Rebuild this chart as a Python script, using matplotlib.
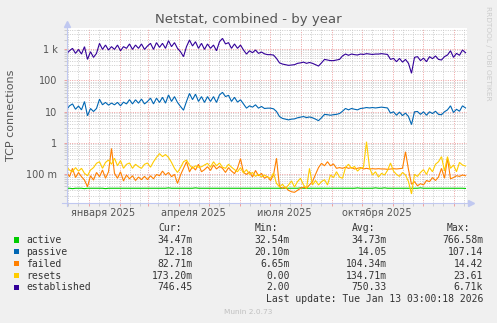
import numpy as np
import pandas as pd
import matplotlib
matplotlib.use("Agg")
import matplotlib.pyplot as plt
import matplotlib.dates as mdates
from matplotlib.ticker import FixedLocator, FixedFormatter, NullFormatter
from matplotlib.lines import Line2D
from matplotlib.patches import Rectangle

# ---------------- data ----------------
start_date = "2024-12-10"
step_days = 3

active = [0.035, 0.035, 0.034, 0.035, 0.035, 0.035, 0.034, 0.035, 0.035, 0.035,
          0.035, 0.035, 0.035, 0.034, 0.035, 0.035, 0.035, 0.035, 0.035, 0.035,
          0.035, 0.035, 0.035, 0.035, 0.035, 0.035, 0.035, 0.035, 0.035, 0.035,
          0.035, 0.035, 0.035, 0.035, 0.036, 0.035, 0.035, 0.035, 0.035, 0.035,
          0.035, 0.035, 0.035, 0.036, 0.035, 0.035, 0.035, 0.035, 0.035, 0.035,
          0.035, 0.035, 0.035, 0.035, 0.035, 0.035, 0.035, 0.035, 0.035, 0.035,
          0.035, 0.035, 0.035, 0.035, 0.035, 0.035, 0.035, 0.035, 0.035, 0.035,
          0.035, 0.035, 0.035, 0.035, 0.035, 0.035, 0.035, 0.035, 0.036, 0.035,
          0.035, 0.035, 0.035, 0.035, 0.035, 0.035, 0.035, 0.035, 0.035, 0.035,
          0.035, 0.035, 0.035, 0.035, 0.035, 0.035, 0.035, 0.036, 0.035, 0.035,
          0.035, 0.035, 0.035, 0.036, 0.035, 0.035, 0.036, 0.035, 0.035, 0.035,
          0.035, 0.035, 0.035, 0.035, 0.035, 0.035, 0.035, 0.035, 0.036, 0.035,
          0.035, 0.035, 0.035, 0.035, 0.035, 0.035, 0.035, 0.035, 0.035, 0.035,
          0.035, 0.035, 0.035, 0.0345]

passive = [11.3, 15.2, 17.5, 11.8, 15.0, 11.3, 20.9, 7.3, 12.5, 10.0,
           12.5, 24.7, 16.4, 19.6, 16.0, 18.6, 16.4, 19.6, 15.2, 20.0,
           17.5, 24.0, 17.5, 23.7, 18.5, 25.0, 17.5, 21.0, 26.8, 17.5,
           26.8, 19.5, 28.5, 18.5, 34.0, 21.0, 30.0, 19.5, 14.5, 11.0,
           21.0, 38.0, 24.0, 36.0, 21.0, 30.0, 19.5, 30.0, 21.0, 30.0,
           19.5, 34.0, 41.0, 30.0, 33.0, 21.0, 28.5, 20.0, 23.7, 17.5,
           12.8, 15.2, 13.8, 16.4, 12.8, 14.5, 12.5, 12.8, 12.8, 12.2,
           10.0, 6.9, 6.0, 5.7, 5.4, 5.7, 5.8, 6.3, 6.6, 6.9,
           6.4, 6.7, 6.3, 5.7, 5.1, 6.3, 8.1, 7.9, 7.6, 7.9,
           8.1, 8.6, 10.2, 12.5, 11.3, 12.5, 11.8, 11.3, 12.5, 12.8,
           13.4, 13.0, 13.4, 13.0, 13.4, 13.8, 13.4, 13.0, 8.9, 9.8,
           7.6, 9.6, 7.4, 8.9, 6.9, 3.8, 9.8, 10.0, 8.1, 9.8,
           7.6, 9.8, 8.6, 10.2, 8.1, 7.9, 9.8, 11.3, 15.2, 9.3,
           11.8, 10.2, 15.2, 13.0]

failed = [0.118, 0.082, 0.152, 0.077, 0.112, 0.082, 0.064, 0.039, 0.088, 0.064,
          0.112, 0.082, 0.134, 0.073, 0.118, 0.66, 0.105, 0.073, 0.118, 0.060,
          0.093, 0.070, 0.088, 0.062, 0.080, 0.066, 0.084, 0.066, 0.088, 0.070,
          0.097, 0.088, 0.124, 0.093, 0.112, 0.082, 0.097, 0.050, 0.093, 0.152,
          0.247, 0.118, 0.171, 0.134, 0.205, 0.118, 0.138, 0.171, 0.130, 0.194,
          0.145, 0.175, 0.152, 0.112, 0.160, 0.124, 0.103, 0.152, 0.31, 0.112,
          0.097, 0.118, 0.080, 0.130, 0.088, 0.105, 0.073, 0.084, 0.062, 0.093,
          0.32, 0.039, 0.035, 0.038, 0.030, 0.027, 0.026, 0.030, 0.035, 0.038,
          0.035, 0.0446, 0.057, 0.097, 0.160, 0.220, 0.183, 0.247, 0.183, 0.210,
          0.152, 0.160, 0.152, 0.165, 0.152, 0.160, 0.145, 0.152, 0.160, 0.145,
          0.152, 0.145, 0.148, 0.145, 0.148, 0.145, 0.145, 0.141, 0.145, 0.148,
          0.145, 0.148, 0.152, 0.515, 0.138, 0.047, 0.057, 0.042, 0.049, 0.0446,
          0.062, 0.057, 0.077, 0.062, 0.080, 0.152, 0.073, 0.32, 0.070, 0.077,
          0.088, 0.084, 0.093, 0.088]

resets = [0.171, 0.134, 0.118, 0.160, 0.124, 0.152, 0.105, 0.088, 0.134, 0.160,
          0.220, 0.247, 0.152, 0.235, 0.280, 0.205, 0.320, 0.183, 0.270, 0.152,
          0.205, 0.225, 0.152, 0.205, 0.171, 0.152, 0.205, 0.225, 0.165, 0.247,
          0.340, 0.450, 0.360, 0.420, 0.340, 0.235, 0.152, 0.112, 0.160, 0.247,
          0.280, 0.194, 0.152, 0.183, 0.165, 0.171, 0.194, 0.220, 0.165, 0.247,
          0.183, 0.225, 0.165, 0.152, 0.205, 0.165, 0.138, 0.118, 0.160, 0.108,
          0.138, 0.097, 0.112, 0.084, 0.097, 0.080, 0.093, 0.080, 0.073, 0.108,
          0.050, 0.039, 0.047, 0.035, 0.0446, 0.060, 0.038, 0.057, 0.073, 0.0446,
          0.035, 0.152, 0.0446, 0.062, 0.0446, 0.057, 0.066, 0.0446, 0.093, 0.077,
          0.118, 0.080, 0.073, 0.160, 0.205, 0.152, 0.175, 0.124, 0.152, 0.165,
          1.08, 0.160, 0.093, 0.118, 0.080, 0.105, 0.093, 0.130, 0.225, 0.124,
          0.097, 0.084, 0.112, 0.093, 0.057, 0.023, 0.097, 0.084, 0.112, 0.138,
          0.097, 0.160, 0.118, 0.205, 0.247, 0.360, 0.124, 0.360, 0.152, 0.194,
          0.118, 0.235, 0.194, 0.180]

established = [700, 880, 1050, 725, 970, 690, 1190, 465, 820, 540,
               725, 1520, 970, 1340, 930, 1190, 970, 1340, 880, 1190,
               1050, 1450, 970, 1340, 1050, 1450, 970, 1250, 1520, 970,
               1600, 1130, 1520, 1050, 1850, 1190, 1600, 1050, 820, 570,
               1190, 1940, 1250, 1710, 1050, 1520, 970, 1450, 1050, 1340,
               880, 1710, 2190, 1450, 1600, 1050, 1450, 1050, 1340, 930,
               690, 880, 760, 930, 725, 800, 700, 660, 660, 640,
               500, 360, 330, 315, 300, 308, 315, 348, 360, 380,
               348, 370, 348, 315, 285, 360, 465, 445, 425, 425,
               445, 465, 600, 690, 630, 690, 660, 643, 690, 670,
               710, 690, 670, 690, 690, 710, 690, 670, 465, 500,
               393, 500, 380, 465, 348, 167, 540, 570, 425, 510,
               393, 570, 490, 600, 465, 445, 570, 643, 880, 540,
               725, 630, 930, 760]

series_names = ["active", "passive", "failed", "resets", "established"]
series_colors = ["#00CC00", "#0066B3", "#FF8000", "#FFCC00", "#330099"]
cur_vals = ["34.47m", "12.18", "82.71m", "173.20m", "746.45"]
min_vals = ["32.54m", "20.10m", "6.65m", "0.00", "2.00"]
avg_vals = ["34.73m", "14.05", "104.34m", "134.71m", "750.33"]
max_vals = ["766.58m", "107.14", "14.42", "23.61", "6.71k"]

ytick_vals = [0.1, 1, 10, 100, 1000]
ytick_labels = ["100 m", "1", "10", "100", "1 k"]
xlabel_dates = ["2025-01-16", "2025-04-16", "2025-07-16", "2025-10-16"]
xlabel_texts = ["января 2025", "апреля 2025", "июля 2025", "октября 2025"]

title = "Netstat, combined - by year"
ylabel = "TCP connections"
last_update = "Last update: Tue Jan 13 03:00:18 2026"

# ---------------- figure ----------------
W, H = 497, 323
fig = plt.figure(figsize=(W / 100, H / 100), dpi=100, facecolor="#F0F0F0")

def fx(px):
    return px / W

def fy(py):
    return 1 - py / H

L, R, T, B = 66.5, 467.5, 28.3, 202.5
ax = fig.add_axes([fx(L), fy(B), fx(R - L), (B - T) / H])
ax.set_facecolor("white")

dates = pd.date_range(start_date, periods=len(established), freq=f"{step_days}D")
series = [active, passive, failed, resets, established]
for vals, col in zip(series, series_colors):
    ax.plot(dates, vals, color=col, lw=0.8, solid_joinstyle="miter")

ax.set_yscale("log")
ax.set_ylim(0.01225, 4600)
x0 = pd.Timestamp(start_date)
ax.set_xlim(x0, x0 + pd.Timedelta(days=401))

grid_gray = "#cccccc"
grid_red = "#eea0a0"
dots = (0, (1, 1.4))

# y grid
ax.yaxis.set_major_locator(FixedLocator(ytick_vals + [0.01]))
ax.yaxis.set_major_formatter(FixedFormatter(ytick_labels + [""]))
ax.yaxis.set_minor_locator(matplotlib.ticker.LogLocator(base=10, subs=np.arange(2, 10), numticks=30))
ax.yaxis.set_minor_formatter(NullFormatter())
# x grid
ax.xaxis.set_major_locator(mdates.MonthLocator(bymonthday=1))
ax.xaxis.set_minor_locator(mdates.DayLocator(bymonthday=[11, 21]))
ax.xaxis.set_major_formatter(NullFormatter())
ax.xaxis.set_minor_formatter(NullFormatter())

ax.grid(which="minor", color=grid_gray, linestyle=dots, lw=0.7)
ax.grid(which="major", color=grid_red, linestyle=dots, lw=0.7)
ax.set_axisbelow(True)

ax.tick_params(axis="both", which="major", length=2, width=0.7, color=grid_red,
               labelsize=7, labelcolor="#555555", pad=4.5, direction="out")
ax.tick_params(axis="both", which="minor", length=2, width=0.7, color=grid_gray,
               direction="out")

for s in ["top", "right", "left", "bottom"]:
    ax.spines[s].set_visible(False)

# x labels centered mid-month
for d, t in zip(xlabel_dates, xlabel_texts):
    ax.text(pd.Timestamp(d), fy(212.5), t, transform=ax.get_xaxis_transform(),
            ha="center", va="center", fontsize=7, color="#555555")

# fix: x label transform uses axes y fraction
for txt in ax.texts:
    txt.set_transform(matplotlib.transforms.blended_transform_factory(ax.transData, fig.transFigure))

# axis lines with arrows
axis_col = "#c0c8f0"
fig.add_artist(Line2D([fx(L), fx(L)], [fy(206), fy(24)], color=axis_col, lw=0.8))
fig.add_artist(Line2D([fx(62), fx(470)], [fy(B), fy(B)], color=axis_col, lw=0.8))
fig.add_artist(Line2D([fx(L)], [fy(23.5)], marker="^", ms=4, color=axis_col, mec=axis_col))
fig.add_artist(Line2D([fx(471)], [fy(B)], marker=">", ms=4, color=axis_col, mec=axis_col))

# title, ylabel, watermark
fig.text(fx(248.5), fy(19), title, ha="center", va="center", fontsize=9.5, color="#555555")
fig.text(fx(11), fy(115), ylabel, ha="center", va="center", rotation=90, fontsize=8, color="#555555")
fig.text(fx(488), fy(53), "RRDTOOL / TOBI OETIKER", ha="center", va="center", rotation=270,
         fontsize=5.3, color="#cccccc")

# legend
mono = "DejaVu Sans Mono"
lc = "#333333"
hy = 227.7
for xh, h in zip([158, 255, 352, 447], ["Cur:", "Min:", "Avg:", "Max:"]):
    fig.text(fx(xh), fy(hy), h, ha="left", va="center", fontsize=7, family=mono, color=lc)
row_y = [240, 251.8, 263.7, 275.6, 287.4]
for i, name in enumerate(series_names):
    y = row_y[i]
    fig.add_artist(Rectangle((fx(14), fy(y + 2.6)), fx(5.2), 5.2 / H, facecolor=series_colors[i],
                             edgecolor="none"))
    fig.text(fx(26), fy(y), name, ha="left", va="center", fontsize=7, family=mono, color=lc)
    for xr, vals in zip([193, 290, 387, 483], [cur_vals, min_vals, avg_vals, max_vals]):
        fig.text(fx(xr), fy(y), vals[i], ha="right", va="center", fontsize=7, family=mono, color=lc)
fig.text(fx(483), fy(299.3), last_update, ha="right", va="center", fontsize=7, family=mono, color=lc)
fig.text(fx(248), fy(312.3), "Munin 2.0.73", ha="center", va="center", fontsize=5.3, color="#c0c0c0")

fig.savefig("out.png", dpi=100, facecolor=fig.get_facecolor())
